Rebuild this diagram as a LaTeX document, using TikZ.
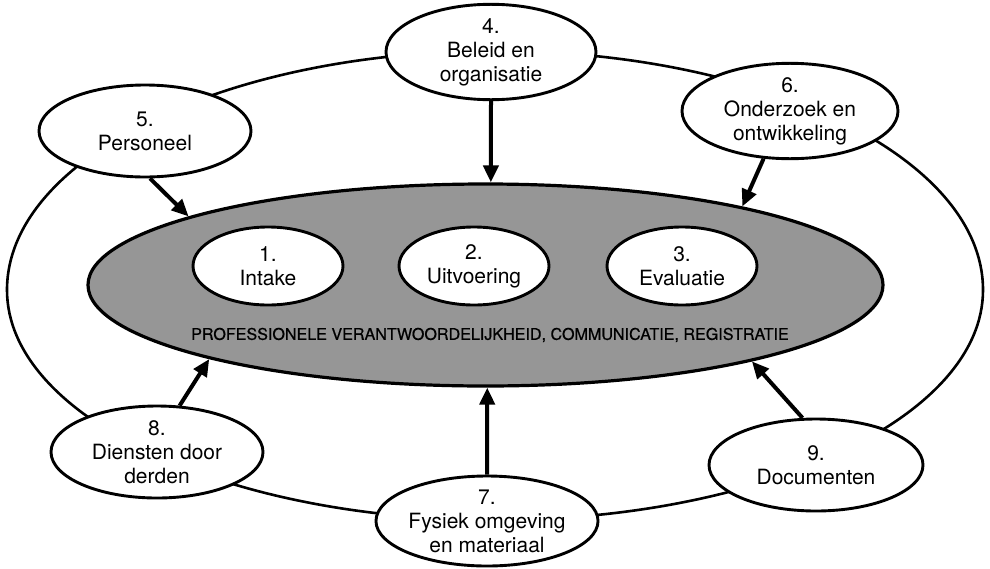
\documentclass[tikz,border=0pt]{standalone}
\usepackage{fontspec}
\setmainfont{TeX Gyre Heros}
\usetikzlibrary{shapes.geometric,arrows.meta}
\definecolor{shade}{RGB}{150,150,150}
\begin{document}
\begin{tikzpicture}[x=1pt,y=1pt,
  oval/.style={ellipse, draw, line width=2.9pt, fill=white, inner sep=0pt, align=center, font=\fontsize{21}{24}\selectfont},
  innerov/.style={oval, minimum width=150pt, minimum height=78pt},
  ring/.style={line width=2.6pt},
  arr/.style={line width=4pt, -{Triangle[length=17pt,width=15pt]}}]
\useasboundingbox (0,0) rectangle (990,-568);
% outer ring
\draw[ring] (983,-290) arc[start angle=0,end angle=180,x radius=488pt,y radius=239pt]
  arc[start angle=180,end angle=360,x radius=488pt,y radius=230pt];
% central ellipse
\node[ellipse, draw, line width=3.2pt, fill=shade, minimum width=795pt, minimum height=202pt, inner sep=0pt] (big) at (485.5,-285) {};
\node[innerov] (n1) at (268,-266) {1.\\Intake};
\node[innerov] (n2) at (474,-266) {2.\\Uitvoering};
\node[innerov] (n3) at (682,-266) {3.\\Evaluatie};
\node[font=\fontsize{16.1}{18}\selectfont\addfontfeatures{FakeBold=0.6}] (prof) at (490,-335) {PROFESSIONELE VERANTWOORDELIJKHEID, COMMUNICATIE, REGISTRATIE};
% outer nodes
\node[oval, minimum width=210pt, minimum height=94pt] (n4) at (491,-52) {4.\\Beleid en\\organisatie};
\node[oval, minimum width=212pt, minimum height=92pt] (n5) at (145,-131) {5.\\Personeel};
\node[oval, minimum width=216pt, minimum height=92pt] (n6) at (790,-111) {6.\\Onderzoek en\\ontwikkeling};
\node[oval, minimum width=210pt, minimum height=90pt] (n7) at (487,-521) {7.\\Fysiek omgeving\\en materiaal};
\node[oval, minimum width=212pt, minimum height=92pt] (n8) at (157,-452) {8.\\Diensten door\\derden};
\node[oval, minimum width=214pt, minimum height=92pt] (n9) at (816,-465) {9.\\Documenten};
% arrows
\draw[arr] (n4.-90) -- (big.87.4);
\draw[arr] (n5.-84) -- (big.167.9);
\draw[arr] (n6.-119) -- (big.17);
\draw[arr] (n8.64.9) -- (big.195.9);
\draw[arr] (n7.90) -- (big.-89.1);
\draw[arr] (n9.106.6) -- (big.-16.2);
\end{tikzpicture}
\end{document}
